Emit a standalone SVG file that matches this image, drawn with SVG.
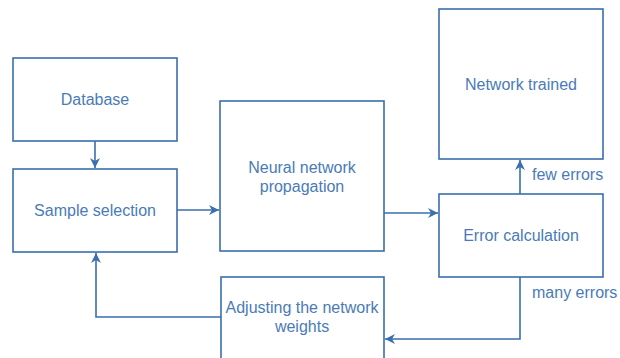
<svg xmlns="http://www.w3.org/2000/svg" width="620" height="358" viewBox="0 0 620 358">
<style>
.box{fill:#ffffff;stroke:#3a6fad;stroke-width:1.6}
.lbl{font-family:"Liberation Sans",Arial,sans-serif;font-size:16px;fill:#4a7bb7;text-anchor:middle}
.el{font-family:"Liberation Sans",Arial,sans-serif;font-size:16px;fill:#4a7bb7;text-anchor:start}
.conn{fill:none;stroke:#3a6fad;stroke-width:1.6}
</style>
<defs>
<marker id="arr" markerUnits="userSpaceOnUse" markerWidth="12" markerHeight="12" refX="10" refY="5" orient="auto">
<path d="M0,0 L10,5 L0,10 L3,5 z" fill="#3a6fad"/>
</marker>
</defs>
<rect width="620" height="358" fill="#ffffff"/>
<g id="database"><rect class="box" x="13" y="58" width="164" height="83"/><text class="lbl" x="95" y="105">Database</text></g>
<g id="sample"><rect class="box" x="13" y="169" width="164" height="83"/><text class="lbl" x="95" y="216">Sample selection</text></g>
<g id="neural"><rect class="box" x="220" y="101" width="164" height="150"/><text class="lbl" x="302" y="173">Neural network</text><text class="lbl" x="302" y="192">propagation</text></g>
<g id="trained"><rect class="box" x="439" y="9" width="164" height="150"/><text class="lbl" x="521" y="90">Network trained</text></g>
<g id="error"><rect class="box" x="439" y="194" width="164" height="83"/><text class="lbl" x="521" y="241">Error calculation</text></g>
<g id="adjust"><rect class="box" x="221" y="277" width="163" height="100"/><text class="lbl" x="302" y="313">Adjusting the network</text><text class="lbl" x="302" y="332">weights</text></g>
<g id="connectors">
<path class="conn" d="M95,141 V168" marker-end="url(#arr)"/>
<path class="conn" d="M177,210 H219" marker-end="url(#arr)"/>
<path class="conn" d="M384,213 H438" marker-end="url(#arr)"/>
<path class="conn" d="M520,194 V160" marker-end="url(#arr)"/>
<path class="conn" d="M520,277 V339 H385" marker-end="url(#arr)"/>
<path class="conn" d="M221,317 H96 V253" marker-end="url(#arr)"/>
<text class="el" x="532" y="180">few errors</text>
<text class="el" x="532" y="298">many errors</text>
</g>
</svg>
